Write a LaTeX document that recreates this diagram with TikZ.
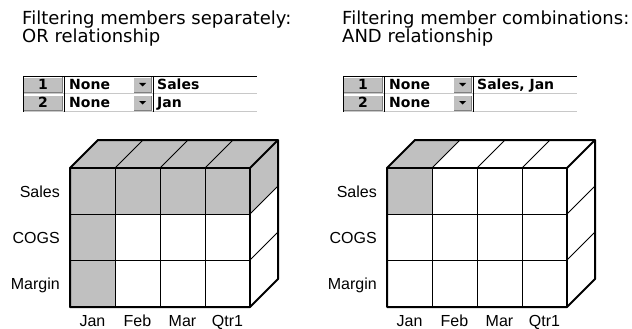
\documentclass[tikz,border=0pt]{standalone}
\usepackage{fontspec}
\setmainfont{Liberation Sans}
\newfontfamily\tabfamily{DejaVu Sans}
\definecolor{cellgray}{HTML}{C0C0C0}
\definecolor{shadegray}{HTML}{808080}
\definecolor{rulegray}{HTML}{C8C8C8}

\tikzset{
  heading/.style={font=\tabfamily\fontsize{18}{18}\selectfont, align=left, inner sep=0pt, anchor=north west},
  tabtext/.style={font=\tabfamily\bfseries\fontsize{14}{14}\selectfont, inner sep=0pt, anchor=base west},
  dimlabel/.style={font=\fontsize{16}{16}\selectfont, inner sep=0pt},
  gridline/.style={line width=1pt},
  cubeedge/.style={line width=2pt, line join=round},
}

% one filter row: #1 = row number, #2 = top y, #3 = member
\newcommand{\filterrow}[3]{%
  \fill[cellgray] (23,#2+1) rectangle (63,#2+17);
  \draw[white] (23.5,#2+17) -- (23.5,#2+1.5) -- (63,#2+1.5);
  \draw[shadegray] (24,#2+16.5) -- (62.5,#2+16.5) -- (62.5,#2+1.5);
  \fill[cellgray] (133,#2+1) rectangle (152,#2+17);
  \draw[white] (133.5,#2+17) -- (133.5,#2+1.5) -- (152,#2+1.5);
  \draw[shadegray] (134,#2+16.5) -- (151.5,#2+16.5) -- (151.5,#2+1.5);
  \draw[rulegray] (23,#2+17.5) -- (257,#2+17.5);
  \node[tabtext, anchor=base] (num#1) at (43,#2+13.5) {#1};
  \node[tabtext] (mode#1) at (69,#2+13.5) {None};
  \fill (139,#2+7) -- (146,#2+7) -- (142.5,#2+10.5) -- cycle;
  \node[tabtext] (member#1) at (157,#2+13.5) {#3};
}

% grid, edges and labels of one cube
\newcommand{\cubeframe}{%
  \foreach \i in {1,2,3} {
    \draw[gridline] ({70+45*\i},168) -- ({70+45*\i},307);
    \draw[gridline] ({70+45*\i},168) -- ({98+45*\i},140);
  }
  \foreach \j in {1,2} {
    \draw[gridline] (70,{168+46*\j}) -- (250,{168+46*\j});
    \draw[gridline] (250,{168+46*\j}) -- (278,{140+46*\j});
  }
  \draw[cubeedge] (70,168) -- (98,140) -- (278,140) -- (278,279) -- (250,307) -- (70,307) -- cycle;
  \draw[cubeedge] (70,168) -- (250,168) -- (250,307);
  \draw[cubeedge] (250,168) -- (278,140);
  % measures
  \foreach \lab [count=\j] in {Sales,COGS,Margin}
    \node[dimlabel, anchor=base east] (row\j) at (60,{151+46*\j}) {\lab};
  % months
  \foreach \lab [count=\i] in {Jan,Feb,Mar,Qtr1}
    \node[dimlabel, anchor=base] (col\i) at ({47.5+45*\i},326.5) {\lab};
}

\begin{document}
\begin{tikzpicture}[x=1pt, y=-1pt]
  \useasboundingbox (0,0) rectangle (632,329);

  % OR relationship
  \begin{scope}[name prefix=or-]
    \node[heading] (title) at (22,11) {Filtering members separately:\\OR relationship};
    \filterrow{1}{76}{Sales}
    \filterrow{2}{94}{Jan}
    \draw[line width=0.8pt] (23,76) -- (257,76);
    \draw[line width=1pt] (23.5,76) -- (23.5,112) (64,76) -- (64,112) (153,76) -- (153,112);
    % shaded cells
    \fill[cellgray] (70,168) rectangle (250,214);
    \fill[cellgray] (70,168) rectangle (115,307);
    \fill[cellgray] (70,168) -- (98,140) -- (278,140) -- (250,168) -- cycle;
    \fill[cellgray] (250,168) -- (278,140) -- (278,186) -- (250,214) -- cycle;
    \cubeframe
  \end{scope}

  % AND relationship
  \begin{scope}[name prefix=and-, xshift=320pt]
    \node[heading] (title) at (22,11) {Filtering member combinations:\\AND relationship};
    \filterrow{1}{76}{Sales, Jan}
    \filterrow{2}{94}{}
    \draw[line width=0.8pt] (23,76) -- (257,76);
    \draw[line width=1pt] (23.5,76) -- (23.5,112) (64,76) -- (64,112) (153,76) -- (153,112);
  \end{scope}
  \begin{scope}[name prefix=and-, xshift=317pt]
    % shaded cells
    \fill[cellgray] (70,168) rectangle (115,214);
    \fill[cellgray] (70,168) -- (98,140) -- (143,140) -- (115,168) -- cycle;
    \cubeframe
  \end{scope}
\end{tikzpicture}
\end{document}
